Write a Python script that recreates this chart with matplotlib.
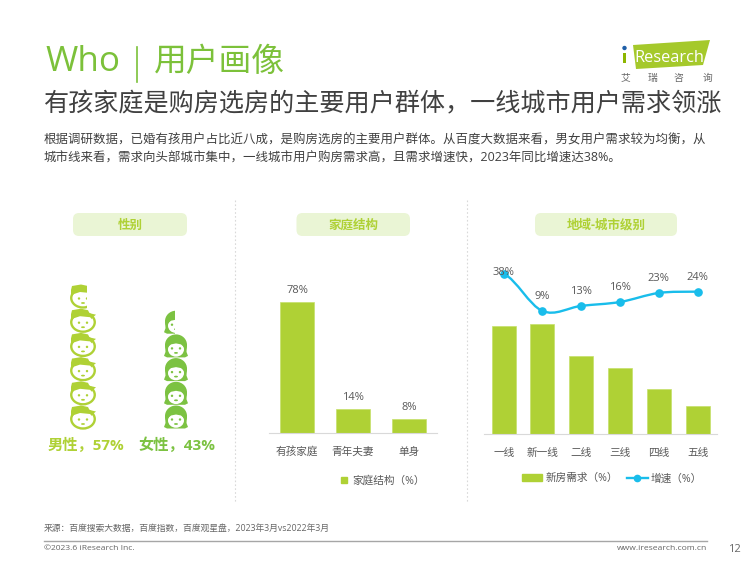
import matplotlib
matplotlib.use('Agg')
import matplotlib.pyplot as plt
from matplotlib.patches import Rectangle, FancyBboxPatch, Polygon, Ellipse, Circle, PathPatch
from matplotlib.path import Path
from matplotlib.lines import Line2D

plt.rcParams['font.family'] = ['Open Sans', 'Noto Sans CJK SC', 'DejaVu Sans']

# Data
gender_labels = ['男性，57%', '女性，43%']
gender_values = [57, 43]

family_cats = ['有孩家庭', '青年夫妻', '单身']
family_values = [78, 14, 8]

city_cats = ['一线', '新一线', '二线', '三线', '四线', '五线']
city_demand = [24.8, 25.2, 18.0, 15.2, 10.4, 6.4]
city_growth = [38, 9, 13, 16, 23, 24]

GREEN = '#AFD135'
GREEN2 = '#7CC242'
TITLE_GREEN = '#7CC13A'
BLUE = '#19BDEB'
TEXT = '#595959'
W, H = 750, 563

fig = plt.figure(figsize=(W / 100, H / 100), dpi=100)

# overlay in pixel coords for everything that is not a chart
bg = fig.add_axes([0, 0, 1, 1])
bg.set_xlim(0, W)
bg.set_ylim(H, 0)
bg.axis('off')


def px_axes(x0, y0, x1, y1):
    a = fig.add_axes([x0 / W, 1 - y1 / H, (x1 - x0) / W, (y1 - y0) / H])
    a.patch.set_alpha(0)
    return a


# header
bg.text(45, 62, 'Who', fontsize=25.2, color=TITLE_GREEN, va='center', ha='left')
bg.plot([137, 137], [47, 82], color=TITLE_GREEN, lw=1.2)
bg.text(154, 62, '用户画像', fontsize=23.6, color=TITLE_GREEN, va='center', ha='left')
bg.text(44, 105, '有孩家庭是购房选房的主要用户群体，一线城市用户需求领涨', fontsize=18.1,
        color='#404040', va='center', ha='left')
bg.text(44, 140, '根据调研数据，已婚有孩用户占比近八成，是购房选房的主要用户群体。从百度大数据来看，男女用户需求较为均衡，从',
        fontsize=8.98, color='#404040', va='center', ha='left')
bg.text(44, 158, '城市线来看，需求向头部城市集中，一线城市用户购房需求高，且需求增速快，2023年同比增速达38%。',
        fontsize=8.98, color='#404040', va='center', ha='left')

# logo
bg.add_patch(Polygon([(633, 45), (710, 40), (703, 65), (636, 69)], closed=True, color='#A5C92B', lw=0))
bg.add_patch(Rectangle((623, 53), 3, 10, color='#8DB600', lw=0))
bg.add_patch(Circle((624.5, 48), 2.2, color='#1F5FA8', lw=0))
bg.text(634, 57.5, 'Research', fontsize=11.8, color='white', va='center', ha='left')
for lx, ch in zip([625, 652, 678, 707], '艾瑞咨询'):
    bg.text(lx, 78, ch, fontsize=7, color='#666666', va='center', ha='center')

# pills and separators
for (x0, x1, label) in [(73, 187, '性别'), (296.5, 410, '家庭结构'), (535, 677, '地域-城市级别')]:
    bg.add_patch(FancyBboxPatch((x0 + 6, 219), x1 - x0 - 12, 11, boxstyle='round,pad=6', color='#EAF5D5', lw=0))
    bg.text((x0 + x1) / 2, 225.5, label, fontsize=9, color=GREEN, fontweight='bold', va='center', ha='center')
for sx in [235, 467]:
    bg.plot([sx, sx], [200, 503], color='#D9D9D9', lw=0.8, ls=(0, (1.5, 2)))


# pictogram heads, one head is 10 percent
def draw_head(cx, cy, color, female, clip_right):
    parts = []
    if female:
        parts.append(Ellipse((cx, cy - 1), 22, 21, color=color, lw=0))
        parts.append(Polygon([(cx - 11, cy - 1), (cx - 10.5, cy + 6), (cx - 12, cy + 10), (cx - 9, cy + 11.5), (cx + 9, cy + 11.5),
                              (cx + 12, cy + 10), (cx + 10.5, cy + 6), (cx + 11, cy - 1)], closed=True, color=color, lw=0))
        parts.append(Ellipse((cx, cy + 3.5), 16, 14.5, color='white', lw=0))
        parts.append(Polygon([(cx - 9, cy + 2), (cx - 6, cy - 6), (cx + 6, cy - 6), (cx + 9, cy + 2), (cx + 5, cy - 1.5),
                              (cx, cy - 2.5), (cx - 5, cy - 1.5)], closed=True, color=color, lw=0))
    else:
        parts.append(Ellipse((cx, cy + 2), 23.5, 19, facecolor='white', edgecolor=color, lw=1.7))
        parts.append(Polygon([(cx - 12, cy + 1), (cx - 12, cy - 6), (cx - 11, cy - 10), (cx - 2, cy - 11.5), (cx + 5, cy - 10),
                              (cx + 6.5, cy - 7), (cx + 13, cy - 5.5), (cx + 10, cy - 3), (cx + 9, cy - 1), (cx + 7, cy - 3),
                              (cx - 3, cy - 4), (cx - 9, cy - 2)], closed=True, color=color, lw=0))
    parts.append(Circle((cx - 4, cy + 2.5), 1.2, color=color, lw=0))
    parts.append(Circle((cx + 4, cy + 2.5), 1.2, color=color, lw=0))
    parts.append(Ellipse((cx, cy + 7), 4, 1.8, color=color, lw=0))
    clip = Rectangle((cx - 13, cy - 13), clip_right + 13, 26, transform=bg.transData)
    for p in parts:
        bg.add_patch(p)
        p.set_clip_path(clip)


def draw_icons(cx, value, color, female, step, cut):
    whole = value // 10
    for i in range(whole):
        draw_head(cx, 417 - i * step, color, female, 13)
    # the top head is only partly shown
    draw_head(cx, 417 - whole * step, color, female, cut)


draw_icons(83, gender_values[0], GREEN, False, 24.2, 4.3)
draw_icons(176, gender_values[1], GREEN2, True, 23.7, -1.5)
bg.text(85.5, 445, gender_labels[0], fontsize=11, color=GREEN, fontweight='bold', va='center', ha='center')
bg.text(176.5, 445, gender_labels[1], fontsize=11, color=GREEN2, fontweight='bold', va='center', ha='center')

# family chart
ax1 = px_axes(269, 250, 437, 432.5)
ax1.bar(range(3), family_values, width=0.62, color=GREEN, edgecolor='#C6E06A', linewidth=0.5)
ax1.set_xlim(-0.5, 2.5)
ax1.set_ylim(0, 109)
ax1.set_xticks(range(3), family_cats)
ax1.set_yticks([])
ax1.tick_params(axis='x', length=0, pad=10, labelsize=7.7, labelcolor=TEXT)
for s in ['top', 'left', 'right']:
    ax1.spines[s].set_visible(False)
ax1.spines['bottom'].set_color('#D9D9D9')
for i, v in enumerate(family_values):
    ax1.annotate('%d%%' % v, (i, v), xytext=(0, 8.5), textcoords='offset points', ha='center', va='center',
                 fontsize=8, color=TEXT)
ax1.legend(handles=[Rectangle((0, 0), 1, 1, color=GREEN)], labels=['家庭结构（%）'], loc='center',
           bbox_to_anchor=(0.68, -0.268), frameon=False, fontsize=7.7, labelcolor=TEXT,
           handlelength=0.55, handleheight=0.55, handletextpad=0.5)

# city chart
ax2 = px_axes(484.3, 250, 717, 433.7)
ax2.bar(range(6), city_demand, width=0.62, color=GREEN, edgecolor='#C6E06A', linewidth=0.5)
ax2.set_xlim(-0.5, 5.5)
ax2.set_ylim(0, 42.3)
ax2.set_xticks(range(6), city_cats)
ax2.set_yticks([])
ax2.tick_params(axis='x', length=0, pad=10, labelsize=7.7, labelcolor=TEXT)
for s in ['top', 'left', 'right']:
    ax2.spines[s].set_visible(False)
ax2.spines['bottom'].set_color('#D9D9D9')

ax3 = ax2.twinx()
ax3.set_ylim(-86.1, 56.3)
ax3.axis('off')
# smoothed line, bezier handles come from the neighbouring values
xs = list(range(6))
verts = [(xs[0], city_growth[0])]
codes = [Path.MOVETO]
for i in range(5):
    p0 = city_growth[max(i - 1, 0)]
    p1 = city_growth[i]
    p2 = city_growth[i + 1]
    p3 = city_growth[min(i + 2, 5)]
    verts += [(i + 1 / 3, p1 + (p2 - p0) / 6), (i + 2 / 3, p2 - (p3 - p1) / 6), (i + 1, p2)]
    codes += [Path.CURVE4, Path.CURVE4, Path.CURVE4]
ax3.add_patch(PathPatch(Path(verts, codes), facecolor='none', edgecolor=BLUE, lw=1.7))
ax3.plot(xs, city_growth, ls='none', marker='o', ms=5.2, color=BLUE)
for i, v in enumerate(city_growth):
    ax3.annotate('%d%%' % v, (i, v), xytext=(0, 1 if i == 0 else 10.5), textcoords='offset points', ha='center',
                 va='center', fontsize=8, color=TEXT)
ax2.legend(handles=[Rectangle((0, 0), 1, 1, color=GREEN),
                    Line2D([0], [0], color=BLUE, lw=1.7, marker='o', ms=4.5)],
           labels=['新房需求（%）', '增速（%）'], loc='center', bbox_to_anchor=(0.548, -0.246), frameon=False, ncol=2,
           fontsize=7.7, labelcolor=TEXT, handlelength=1.9, handleheight=0.55, handletextpad=0.3, columnspacing=0.9)

# footer
bg.text(44, 529, '来源：百度搜索大数据，百度指数，百度观星盘，2023年3月vs2022年3月', fontsize=6.35, color='#666666',
        va='center', ha='left')
bg.plot([44, 707], [541, 541], color='#A6A6A6', lw=1)
bg.text(44, 549, '©2023.6 iResearch Inc.', fontsize=6.1, color='#666666', va='center', ha='left')
bg.text(707, 549, 'www.iresearch.com.cn', fontsize=6.1, color='#666666', va='center', ha='right')
bg.text(741, 549, '12', fontsize=8, color='#666666', va='center', ha='right')

fig.savefig('out.png', dpi=100)
